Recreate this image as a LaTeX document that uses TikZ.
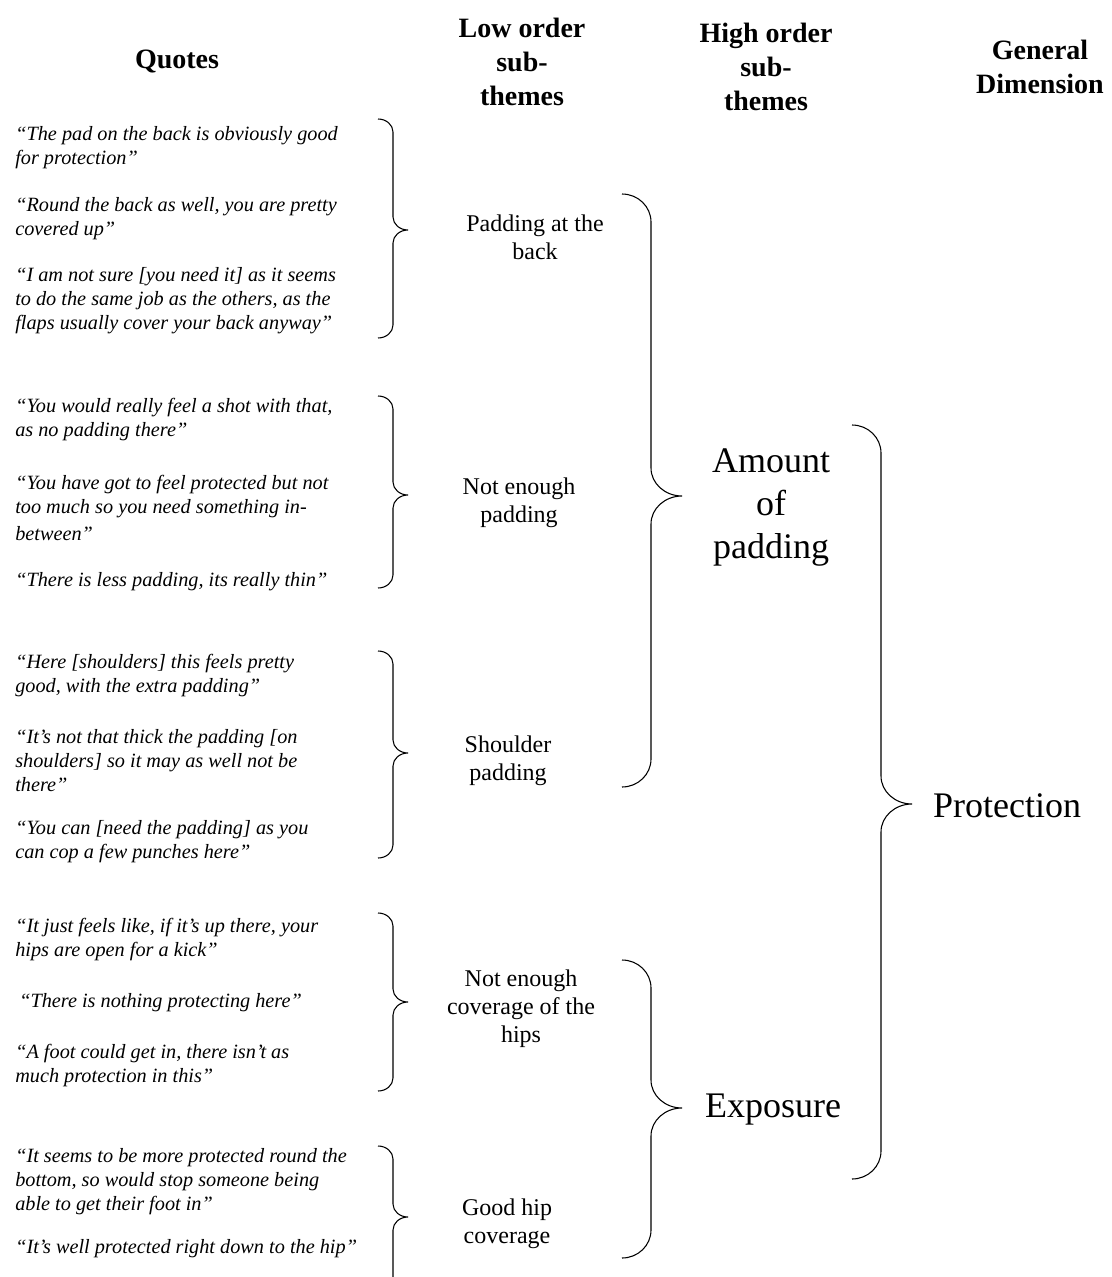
\documentclass[tikz,border=0pt]{standalone}
\usepackage{fontspec}
\setmainfont{Liberation Serif}

% Curly brace opening to the right:
% #1 x of the ends, #2 x of the spine, #3 x of the tip,
% #4 y of the top, #5 y of the tip, #6 y of the bottom, #7 height of the curls
\newcommand{\curlybrace}[7]{%
  \draw[bracestyle]
    (#1,#4) .. controls ({#1+0.552*(#2-#1)},#4) and (#2,{#4+0.448*#7}) .. (#2,{#4+#7})
    -- (#2,{#5-#7})
    .. controls (#2,{#5-0.448*#7}) and ({#3-0.552*(#3-#2)},#5) .. (#3,#5)
    .. controls ({#3-0.552*(#3-#2)},#5) and (#2,{#5+0.448*#7}) .. (#2,{#5+#7})
    -- (#2,{#6-#7})
    .. controls (#2,{#6-0.448*#7}) and ({#1+0.552*(#2-#1)},#6) .. (#1,#6);%
}

\tikzset{
  bracestyle/.style={line width=0.8pt, black},
  textbase/.style={inner sep=0pt, yshift=-2.25pt},
  head/.style={textbase, align=center, font=\fontsize{21}{25.5}\selectfont\bfseries},
  quote/.style={textbase, anchor=west, align=left, font=\fontsize{15.2}{18}\selectfont\itshape},
  lowlab/.style={textbase, align=center, font=\fontsize{18}{21}\selectfont},
  biglab/.style={textbase, align=center, font=\fontsize{27}{32.5}\selectfont},
}

\begin{document}
\begin{tikzpicture}[x=0.75pt, y=-0.75pt]
  \useasboundingbox (0,0) rectangle (1112,1277);
  \clip (0,0) rectangle (1112,1277);
  \fill[white] (0,0) rectangle (1112,1277);

  % column headings
  \node[head] (hq)   at (177,59)  {Quotes};
  \node[head] (hlow) at (522,59)  {Low order\\sub-\\themes};
  \node[head] (hhigh) at (766,64) {High order\\sub-\\themes};
  \node[head] (hgen) at (1040,64) {General\\Dimension};

  % quotes: padding at the back
  \node[quote] (q11) at (15,145)   {“The pad on the back is obviously good\\for protection”};
  \node[quote] (q12) at (15,216)   {“Round the back as well, you are pretty\\covered up”};
  \node[quote] (q13) at (15,297.5) {“I am not sure [you need it] as it seems\\to do the same job as the others, as the\\flaps usually cover your back anyway”};

  % quotes: not enough padding
  \node[quote] (q21) at (15,416.5) {“You would really feel a shot with that,\\as no padding there”};
  \node[quote] (q22) at (15,505)   {“You have got to feel protected but not\\too much so you need something in-\\[2pt]between”};
  \node[quote] (q23) at (15,579)   {“There is less padding, its really thin”};

  % quotes: shoulder padding
  \node[quote] (q31) at (15,672.5) {“Here [shoulders] this feels pretty\\good, with the extra padding”};
  \node[quote] (q32) at (15,758)   {“It’s not that thick the padding [on\\shoulders] so it may as well not be\\there”};
  \node[quote] (q33) at (15,839)   {“You can [need the padding] as you\\can cop a few punches here”};

  % quotes: not enough coverage of the hips
  \node[quote] (q41) at (15,937)    {“It just feels like, if it’s up there, your\\hips are open for a kick”};
  \node[quote] (q42) at (19,1000)   {“There is nothing protecting here”};
  \node[quote] (q43) at (15,1062.5) {“A foot could get in, there isn’t as\\much protection in this”};

  % quotes: good hip coverage
  \node[quote] (q51) at (15,1179) {“It seems to be more protected round the\\bottom, so would stop someone being\\able to get their foot in”};
  \node[quote] (q52) at (15,1246) {“It’s well protected right down to the hip”};

  % low order sub-themes
  \node[lowlab] (l1) at (535,234)  {Padding at the\\back};
  \node[lowlab] (l2) at (519,499.5) {Not enough\\padding};
  \node[lowlab] (l3) at (508,758)  {Shoulder\\padding};
  \node[lowlab] (l4) at (521,1006) {Not enough\\coverage of the\\hips};
  \node[lowlab] (l5) at (507,1221) {Good hip\\coverage};

  % high order sub-themes and general dimension
  \node[biglab] (h1) at (771,504.5) {Amount\\of\\padding};
  \node[biglab] (h2) at (773,1107)  {Exposure};
  \node[biglab] (g1) at (1007,803)  {Protection};

  % braces grouping quotes into low order sub-themes
  \curlybrace{378}{393}{408}{119}{230}{338}{13}
  \curlybrace{378}{393}{408}{396}{495}{588}{13}
  \curlybrace{378}{393}{408}{651}{753}{858}{13}
  \curlybrace{378}{393}{408}{913}{1002}{1091}{13}
  \curlybrace{378}{393}{408}{1146}{1217}{1310}{13}

  % braces grouping low order into high order sub-themes
  \curlybrace{622}{651}{682}{194}{496}{787}{28}
  \curlybrace{622}{651}{682}{960}{1108}{1258}{28}

  % brace grouping high order sub-themes into the general dimension
  \curlybrace{852}{881}{912}{425}{804}{1179}{28}
\end{tikzpicture}
\end{document}
